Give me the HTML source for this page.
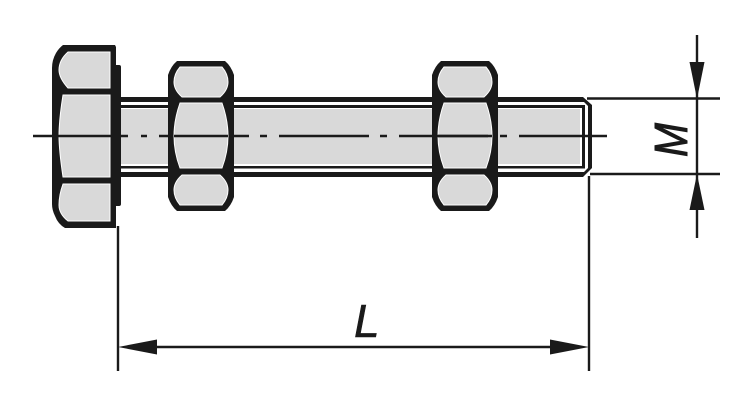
<!DOCTYPE html>
<html>
<head>
<meta charset="utf-8">
<style>
html,body{margin:0;padding:0;background:#fff;width:750px;height:405px;overflow:hidden}
svg{display:block}
text{font-family:"Liberation Sans",sans-serif;font-style:italic;fill:#1a1a1a;stroke:#1a1a1a}
</style>
</head>
<body>
<svg width="750" height="405" viewBox="0 0 750 405" xmlns="http://www.w3.org/2000/svg">
<rect width="750" height="405" fill="#fff"/>

<!-- Shaft -->
<path d="M118 97H583L592 105V168L583 177H118Z" fill="#1a1a1a"/>
<rect x="118" y="102" width="464" height="3" fill="#fff"/>
<rect x="118" y="168.5" width="464" height="3.5" fill="#fff"/>
<path d="M582 102H584L588 106V168L584 172H582Z" fill="#fff"/>
<rect x="118" y="105" width="465" height="3" fill="#1a1a1a"/>
<rect x="118" y="108" width="464" height="58" fill="#fff"/>
<rect x="121" y="109" width="459" height="55" fill="#d9d9d9"/>
<rect x="582" y="105" width="3" height="63.5" fill="#1a1a1a"/>
<rect x="118" y="166" width="467" height="2.5" fill="#1a1a1a"/>

<!-- Bolt head -->
<path d="M63 45H115L116 47V228H65Q58 224 55 216Q52 210 52 204V68Q52 60 56 53Q59 48 63 45Z" fill="#1a1a1a"/>
<rect x="113" y="65" width="8" height="141" rx="2" fill="#1a1a1a"/>
<g fill="#d9d9d9" stroke="#fff" stroke-width="1">
<path d="M68 52H110V88H68Q59 78 59 70Q59 60 68 52Z"/>
<path d="M63 95H110V177H63Q59 150 59 136Q59 120 63 95Z"/>
<path d="M63 184H110V221H68Q59 214 59 205Q59 195 63 184Z"/>
</g>

<!-- Nuts -->
<g id="n1">
<path d="M177 61H225Q231 66 234 75V197Q231 206 225 211H177Q171 206 168 197V75Q171 66 177 61Z" fill="#1a1a1a"/>
<g fill="#d9d9d9" stroke="#fff" stroke-width="1">
<path d="M180 67H222Q228 74 228 82Q228 90 220 97H182Q174 90 174 82Q174 74 180 67Z"/>
<path d="M180 103H222Q228 120 228 136Q228 152 222 168H180Q174 152 174 136Q174 120 180 103Z"/>
<path d="M182 175H220Q228 182 228 190Q228 198 222 205H180Q174 198 174 190Q174 182 182 175Z"/>
</g>
</g>
<g transform="translate(264 0)">
<path d="M177 61H225Q231 66 234 75V197Q231 206 225 211H177Q171 206 168 197V75Q171 66 177 61Z" fill="#1a1a1a"/>
<g fill="#d9d9d9" stroke="#fff" stroke-width="1">
<path d="M180 67H222Q228 74 228 82Q228 90 220 97H182Q174 90 174 82Q174 74 180 67Z"/>
<path d="M180 103H222Q228 120 228 136Q228 152 222 168H180Q174 152 174 136Q174 120 180 103Z"/>
<path d="M182 175H220Q228 182 228 190Q228 198 222 205H180Q174 198 174 190Q174 182 182 175Z"/>
</g>
</g>

<!-- Centre line -->
<g stroke="#1a1a1a" stroke-width="2.6" fill="none">
<path d="M33 136H128M141 136H147M159 136H168M234 136H249M260 136H267M279 136H369M380 136H387M399 136H488M500 136H507M519 136H607"/>
<path d="M174 136H228M438 136H492"/>
</g>

<!-- Extension lines -->
<g stroke="#1a1a1a" stroke-width="2.4" fill="none">
<path d="M118 226V371"/>
<path d="M589 176V371"/>
<path d="M587 98.5H720"/>
<path d="M590 174H720"/>
<path d="M697 35V238"/>
<path d="M150 347H556"/>
</g>

<!-- Arrowheads -->
<g fill="#1a1a1a">
<path d="M689.500 62H704.500L697 99Z"/>
<path d="M689.500 210H704.500L697 174Z"/>
<path d="M118 347L157 339.500V354.500Z"/>
<path d="M589 347L550 339.500V354.500Z"/>
</g>

<!-- Labels -->
<text x="354" y="337" font-size="46" stroke-width="0.6">L</text>
<text transform="translate(687 157) rotate(-90)" x="0" y="0" font-size="46" stroke-width="1" textLength="34" lengthAdjust="spacingAndGlyphs">M</text>
</svg>
</body>
</html>
